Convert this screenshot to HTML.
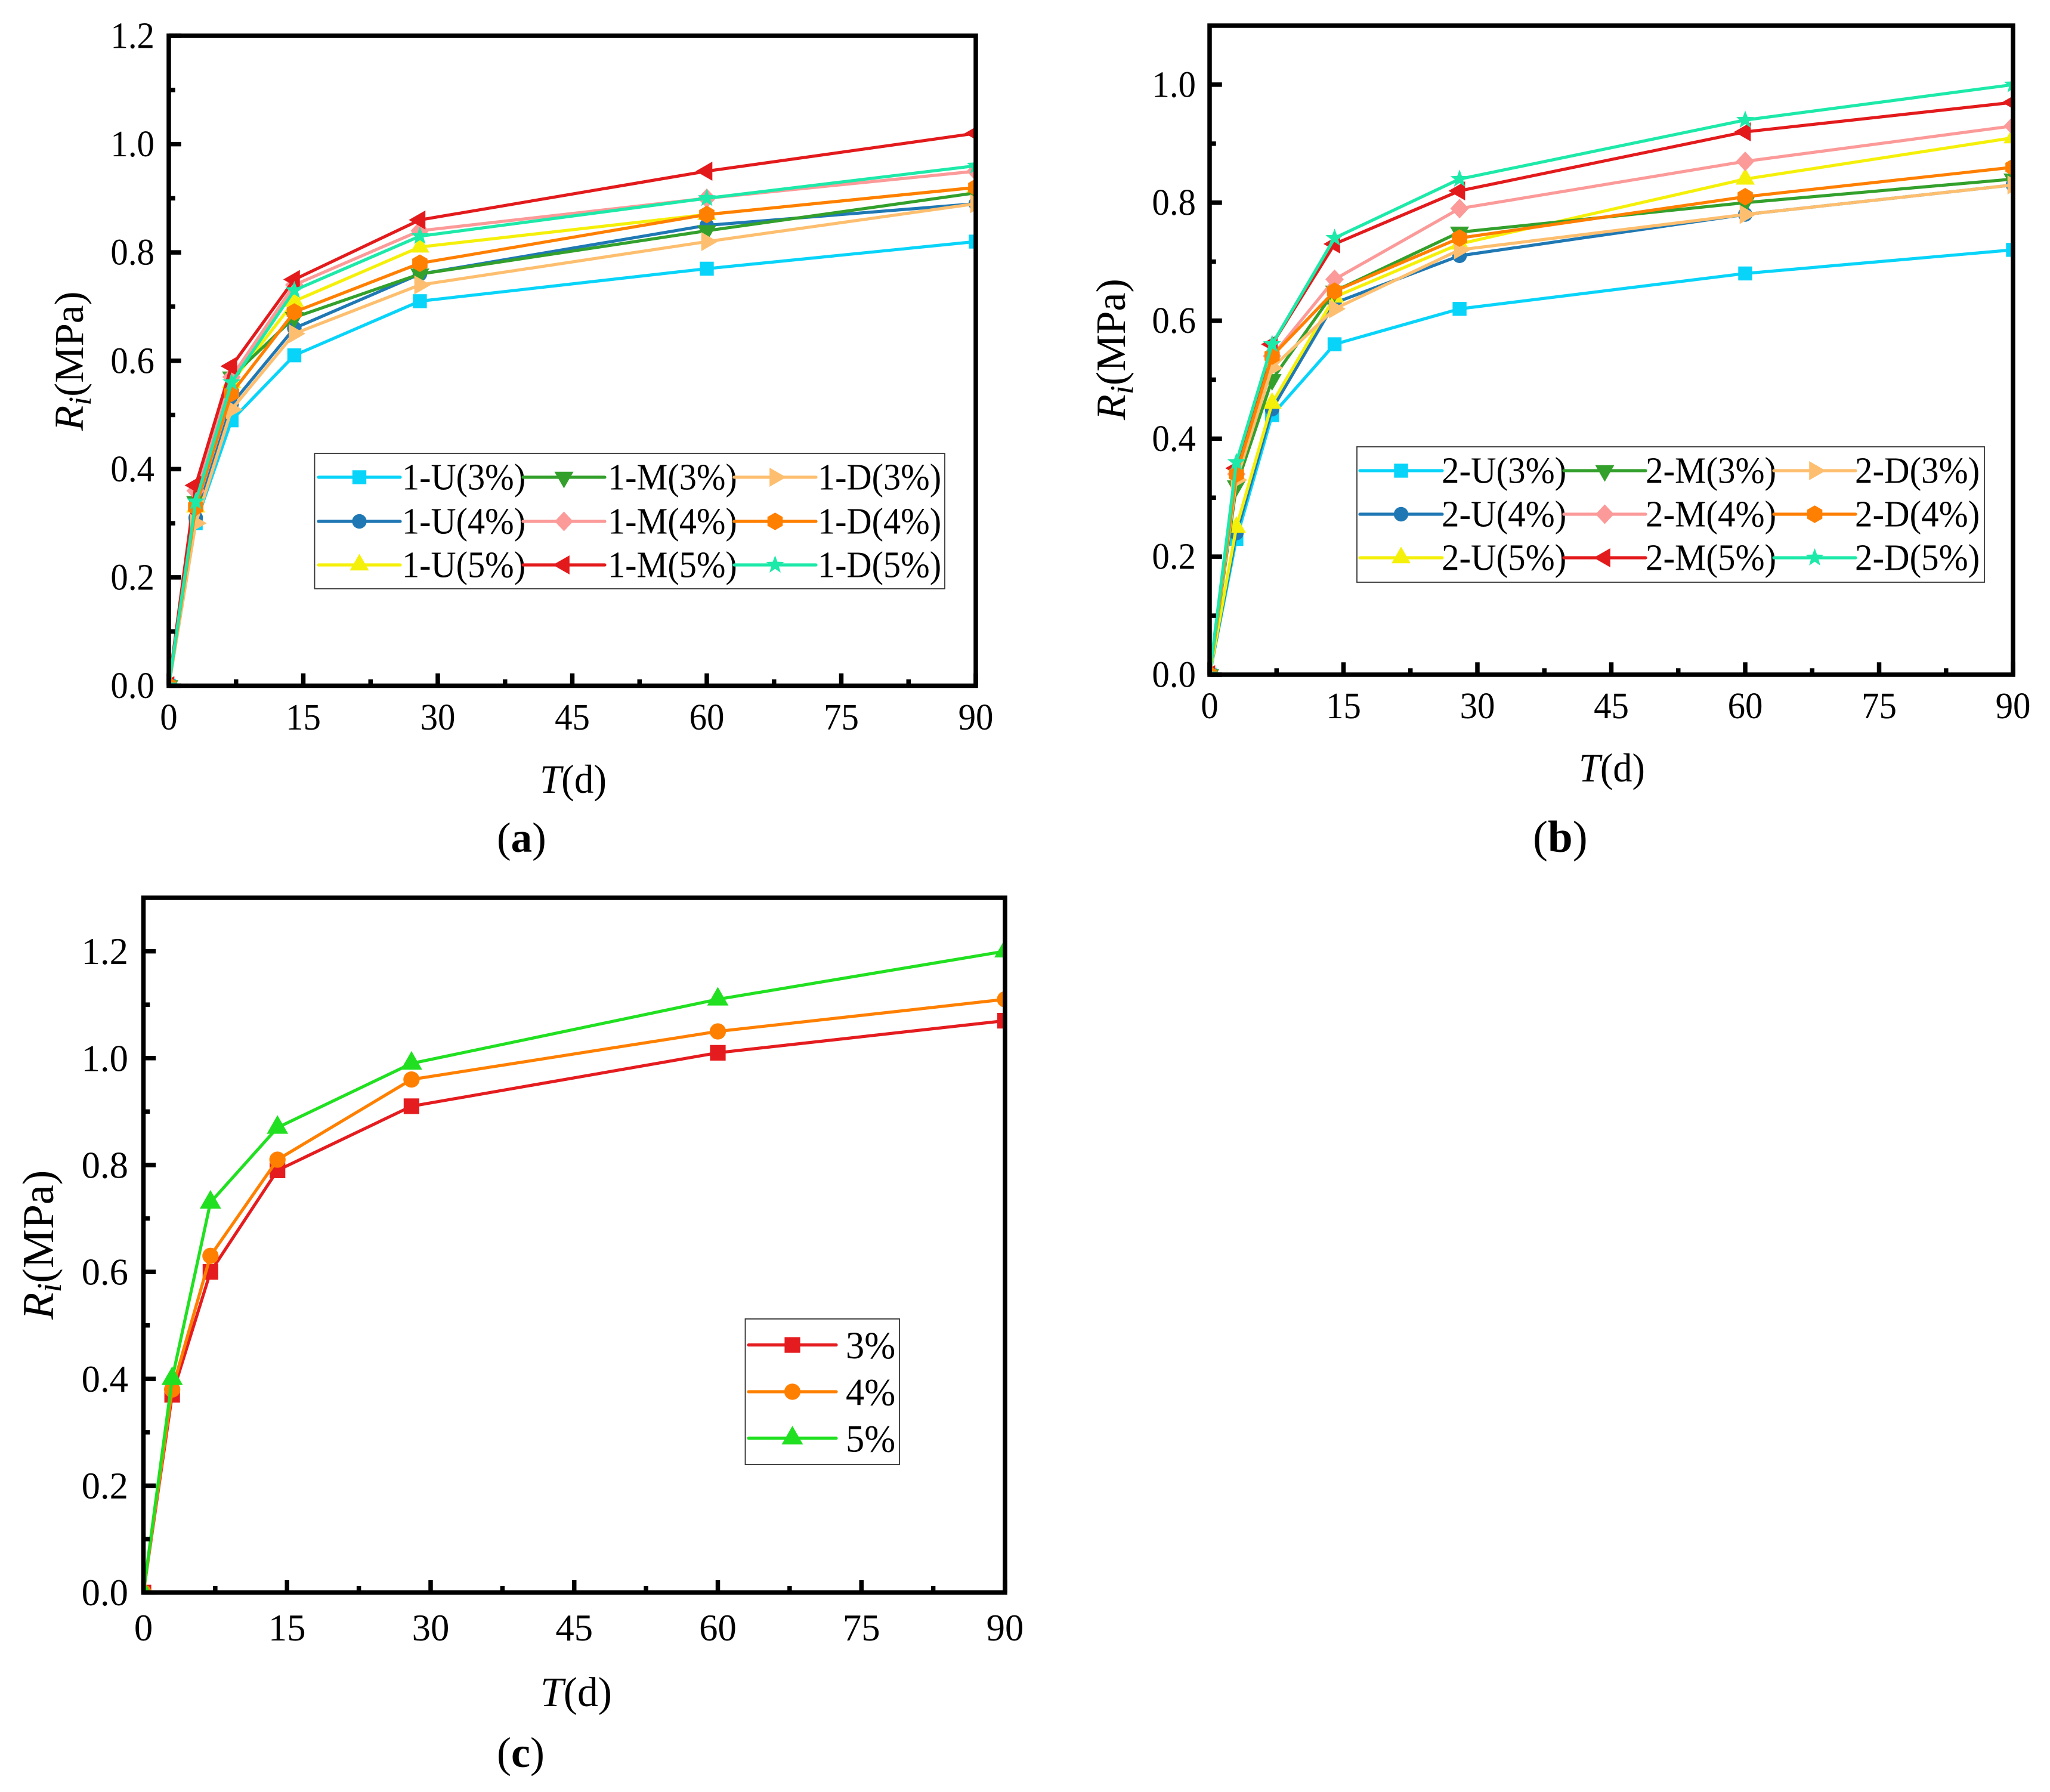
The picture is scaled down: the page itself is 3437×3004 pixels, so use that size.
<!DOCTYPE html>
<html lang="en">
<head>
<meta charset="utf-8">
<title>Ri versus T curves</title>
<style>
html,body{margin:0;padding:0;background:#fff;}
svg{display:block;}
text{font-family:"Liberation Serif","Times New Roman",serif;fill:#000;}
</style>
</head>
<body>
<svg id="figure" xmlns="http://www.w3.org/2000/svg" width="3437" height="3004" viewBox="0 0 3437 3004">
<rect width="3437" height="3004" fill="#fff"/>
</svg>
<script>
// ---- shared axis data ----
const days = [0, 3, 7, 14, 28, 60, 90];
const xMajorTicks = [0, 15, 30, 45, 60, 75, 90];
const xMinorTicks = [7.5, 22.5, 37.5, 52.5, 67.5, 82.5];
const xTickLabels = ['0', '15', '30', '45', '60', '75', '90'];

const yMajorTicksA = [0, 0.2, 0.4, 0.6, 0.8, 1.0, 1.2];
const yMinorTicksA = [0.1, 0.3, 0.5, 0.7, 0.9, 1.1];
const yTickLabelsA = ['0.0', '0.2', '0.4', '0.6', '0.8', '1.0', '1.2'];
const yMajorTicksB = [0, 0.2, 0.4, 0.6, 0.8, 1.0];
const yMinorTicksB = [0.1, 0.3, 0.5, 0.7, 0.9];
const yTickLabelsB = ['0.0', '0.2', '0.4', '0.6', '0.8', '1.0'];
const yMajorTicksC = [0, 0.2, 0.4, 0.6, 0.8, 1.0, 1.2];
const yMinorTicksC = [0.1, 0.3, 0.5, 0.7, 0.9, 1.1];
const yTickLabelsC = ['0.0', '0.2', '0.4', '0.6', '0.8', '1.0', '1.2'];

// ---- panel (a) values ----
const a_U3 = [0, 0.30, 0.49, 0.61, 0.71, 0.77, 0.82];
const a_U4 = [0, 0.31, 0.52, 0.66, 0.76, 0.85, 0.89];
const a_U5 = [0, 0.33, 0.56, 0.71, 0.81, 0.87, 0.92];
const a_M3 = [0, 0.34, 0.57, 0.68, 0.76, 0.84, 0.91];
const a_M4 = [0, 0.36, 0.57, 0.74, 0.84, 0.90, 0.95];
const a_M5 = [0, 0.37, 0.59, 0.75, 0.86, 0.95, 1.02];
const a_D3 = [0, 0.30, 0.51, 0.65, 0.74, 0.82, 0.89];
const a_D4 = [0, 0.33, 0.54, 0.69, 0.78, 0.87, 0.92];
const a_D5 = [0, 0.34, 0.56, 0.73, 0.83, 0.90, 0.96];

// ---- panel (b) values ----
const b_U3 = [0, 0.23, 0.44, 0.56, 0.62, 0.68, 0.72];
const b_U4 = [0, 0.24, 0.45, 0.63, 0.71, 0.78, 0.83];
const b_U5 = [0, 0.25, 0.46, 0.64, 0.73, 0.84, 0.91];
const b_M3 = [0, 0.32, 0.50, 0.65, 0.75, 0.80, 0.84];
const b_M4 = [0, 0.34, 0.54, 0.67, 0.79, 0.87, 0.93];
const b_M5 = [0, 0.35, 0.56, 0.73, 0.82, 0.92, 0.97];
const b_D3 = [0, 0.33, 0.52, 0.62, 0.72, 0.78, 0.83];
const b_D4 = [0, 0.34, 0.54, 0.65, 0.74, 0.81, 0.86];
const b_D5 = [0, 0.36, 0.56, 0.74, 0.84, 0.94, 1.00];

// ---- panel (c) values ----
const c_3 = [0, 0.37, 0.60, 0.79, 0.91, 1.01, 1.07];
const c_4 = [0, 0.38, 0.63, 0.81, 0.96, 1.05, 1.11];
const c_5 = [0, 0.40, 0.73, 0.87, 0.99, 1.11, 1.20];

// ---- series names ----
const namesA = ['1-U(3%)', '1-U(4%)', '1-U(5%)', '1-M(3%)', '1-M(4%)', '1-M(5%)', '1-D(3%)', '1-D(4%)', '1-D(5%)'];
const namesB = ['2-U(3%)', '2-U(4%)', '2-U(5%)', '2-M(3%)', '2-M(4%)', '2-M(5%)', '2-D(3%)', '2-D(4%)', '2-D(5%)'];
const namesC = ['3%', '4%', '5%'];

// ---- styling (kept apart from data) ----
const styleNine = [
  {color: '#08D4F9', marker: 'square'},
  {color: '#1F78B4', marker: 'circle'},
  {color: '#F5F00A', marker: 'up'},
  {color: '#33A02C', marker: 'down'},
  {color: '#FB9A99', marker: 'diamond'},
  {color: '#E31A1C', marker: 'left'},
  {color: '#FDBF6F', marker: 'right'},
  {color: '#FF7F00', marker: 'hexagon'},
  {color: '#1DE9A9', marker: 'star'}
];
const styleThree = [
  {color: '#E51C1F', marker: 'square'},
  {color: '#FF8000', marker: 'circle'},
  {color: '#21E021', marker: 'up'}
];

const SVG_NS = 'http://www.w3.org/2000/svg';
const figure = document.getElementById('figure');

function mk(tag, attrs, parent) {
  const el = document.createElementNS(SVG_NS, tag);
  for (const k in attrs) el.setAttribute(k, attrs[k]);
  parent.appendChild(el);
  return el;
}

function polyPoints(cx, cy, pts, s) {
  return pts.map(p => (cx + p[0] * s).toFixed(2) + ',' + (cy + p[1] * s).toFixed(2)).join(' ');
}

function drawMarker(parent, type, cx, cy, color, s) {
  let el;
  if (type === 'square') {
    const h = 11.7 * s;
    el = mk('rect', {x: cx - h, y: cy - h, width: 2 * h, height: 2 * h, fill: color}, parent);
  } else if (type === 'circle') {
    el = mk('circle', {cx: cx, cy: cy, r: 12.2 * s, fill: color}, parent);
  } else if (type === 'up') {
    el = mk('polygon', {points: polyPoints(cx, cy, [[0, -18.6], [-16, 9.3], [16, 9.3]], s), fill: color}, parent);
  } else if (type === 'down') {
    el = mk('polygon', {points: polyPoints(cx, cy, [[0, 18.6], [-16, -9.3], [16, -9.3]], s), fill: color}, parent);
  } else if (type === 'left') {
    el = mk('polygon', {points: polyPoints(cx, cy, [[-18.6, 0], [9.3, -16], [9.3, 16]], s), fill: color}, parent);
  } else if (type === 'right') {
    el = mk('polygon', {points: polyPoints(cx, cy, [[18.6, 0], [-9.3, -16], [-9.3, 16]], s), fill: color}, parent);
  } else if (type === 'diamond') {
    el = mk('polygon', {points: polyPoints(cx, cy, [[0, -16.5], [15.5, 0], [0, 16.5], [-15.5, 0]], s), fill: color}, parent);
  } else if (type === 'hexagon') {
    const r = 14.8;
    const pts = [];
    for (let i = 0; i < 6; i++) {
      const t = Math.PI / 3 * i - Math.PI / 2;
      pts.push([r * Math.cos(t), r * Math.sin(t)]);
    }
    el = mk('polygon', {points: polyPoints(cx, cy, pts, s), fill: color}, parent);
  } else {
    const pts = [];
    for (let i = 0; i < 10; i++) {
      const r = i % 2 === 0 ? 16 : 6.6;
      const t = Math.PI / 5 * i - Math.PI / 2;
      pts.push([r * Math.cos(t), r * Math.sin(t)]);
    }
    el = mk('polygon', {points: polyPoints(cx, cy, pts, s), fill: color}, parent);
  }
  return el;
}

function drawPanel(p) {
  const xScale = v => p.x0 + (v / p.xMax) * (p.x1 - p.x0);
  const yScale = v => p.y0 - (v / p.yMax) * (p.y0 - p.yTop);

  const g = mk('g', {}, figure);
  
  

  const clip = mk('clipPath', {id: `clip-${p.id}`}, g);
  mk('rect', {x: p.x0, y: p.yTop, width: p.x1 - p.x0, height: p.y0 - p.yTop}, clip);

  // series
  const plot = mk('g', {'clip-path': `url(#clip-${p.id})`}, g);
  
  
  p.series.forEach((values, i) => {
    const st = p.styles[i];
    const sg = mk('g', {}, plot);
    
    
    const pts = values.map((v, j) => xScale(days[j]).toFixed(2) + ',' + yScale(v).toFixed(2)).join(' ');
    const line = mk('polyline', {points: pts, fill: 'none', stroke: st.color, 'stroke-width': 5.2, 'stroke-linejoin': 'round'}, sg);
    
    
    values.forEach((v, j) => {
      const m = drawMarker(sg, st.marker, xScale(days[j]), yScale(v), st.color, p.markerScale);
      
      
    });
  });

  // ticks
  const sw = 7.5;
  const halfSpine = sw / 2;
  const major = 17 + halfSpine;
  const minor = 7 + halfSpine;
  xMajorTicks.forEach((v, i) => {
    const x = xScale(v);
    const t = mk('line', {x1: x, x2: x, y1: p.y0, y2: p.y0 - major, stroke: '#000', 'stroke-width': sw}, g);
    
    
    const lab = mk('text', {transform: `translate(${x},${p.xLabelBase}) scale(${p.textSX},1)`, 'text-anchor': 'middle', 'font-size': p.tickFont}, g);
    lab.textContent = xTickLabels[i];
    
    
  });
  xMinorTicks.forEach(v => {
    const x = xScale(v);
    const t = mk('line', {x1: x, x2: x, y1: p.y0, y2: p.y0 - minor, stroke: '#000', 'stroke-width': sw}, g);
    
    
  });
  p.yMajor.forEach((v, i) => {
    const y = yScale(v);
    const t = mk('line', {x1: p.x0, x2: p.x0 + major, y1: y, y2: y, stroke: '#000', 'stroke-width': sw}, g);
    
    
    const lab = mk('text', {transform: `translate(${p.yLabelRight},${y + p.yLabelShift}) scale(${p.textSX},1)`, 'text-anchor': 'end', 'font-size': p.tickFont}, g);
    lab.textContent = p.yLabels[i];
    
    
  });
  p.yMinor.forEach(v => {
    const y = yScale(v);
    const t = mk('line', {x1: p.x0, x2: p.x0 + minor, y1: y, y2: y, stroke: '#000', 'stroke-width': sw}, g);
    
    
  });

  // frame
  const frame = mk('rect', {x: p.x0, y: p.yTop, width: p.x1 - p.x0, height: p.y0 - p.yTop, fill: 'none', stroke: '#000', 'stroke-width': sw}, g);
  
  

  // axis titles
  const xt = mk('text', {x: p.xTitle.x, y: p.xTitle.y, 'font-size': p.xTitle.size, textLength: p.xTitle.len, lengthAdjust: 'spacingAndGlyphs'}, g);
  
  
  const xt1 = mk('tspan', {'font-style': 'italic'}, xt);
  xt1.textContent = 'T';
  const xt2 = mk('tspan', {}, xt);
  xt2.textContent = '(d)';

  const yt = mk('text', {transform: `translate(${p.yTitle.x},${p.yTitle.y}) rotate(-90)`, 'font-size': p.yTitle.size}, g);
  
  
  const yt1 = mk('tspan', {'font-style': 'italic'}, yt);
  yt1.textContent = 'R';
  const yt2 = mk('tspan', {'font-style': 'italic', 'font-size': p.yTitle.size * 0.78, dy: 13}, yt);
  yt2.textContent = 'i';
  const yt3 = mk('tspan', {dy: -13}, yt);
  yt3.textContent = '(MPa)';

  // sub-label
  const sub = mk('text', {x: p.sub.x, y: p.sub.y, 'font-size': p.sub.size}, g);
  
  
  const s1 = mk('tspan', {}, sub);
  s1.textContent = '(';
  const s2 = mk('tspan', {'font-weight': 'bold'}, sub);
  s2.textContent = p.id;
  const s3 = mk('tspan', {}, sub);
  s3.textContent = ')';

  // legend
  const L = p.legend;
  const lg = mk('g', {}, g);
  
  
  const box = mk('rect', {x: L.x, y: L.y, width: L.w, height: L.h, fill: '#fff', stroke: '#333', 'stroke-width': 1.8}, lg);
  
  
  p.names.forEach((name, i) => {
    const col = L.cols[Math.floor(i / L.rows.length)];
    const ry = L.rows[i % L.rows.length];
    const st = p.styles[i];
    const eg = mk('g', {}, lg);
    
    
    mk('line', {x1: col.a, x2: col.b, y1: ry, y2: ry, stroke: st.color, 'stroke-width': 5.2, 'stroke-linecap': 'round'}, eg);
    drawMarker(eg, st.marker, (col.a + col.b) / 2, ry, st.color, p.markerScale);
    const tx = mk('text', {transform: `translate(${col.t},${ry + L.shift}) scale(${L.sx},1)`, 'font-size': L.font}, eg);
    tx.textContent = name;
  });
}

drawPanel({
  id: 'a', x0: 283, x1: 1636, xMax: 90, y0: 1149.5, yTop: 60, yMax: 1.2,
  series: [a_U3, a_U4, a_U5, a_M3, a_M4, a_M5, a_D3, a_D4, a_D5],
  names: namesA, styles: styleNine, markerScale: 1,
  yMajor: yMajorTicksA, yMinor: yMinorTicksA, yLabels: yTickLabelsA,
  tickFont: 62, textSX: 0.95, xLabelBase: 1223, yLabelRight: 259, yLabelShift: 20.5,
  xTitle: {x: 905, y: 1329, size: 68, len: 112},
  yTitle: {x: 139, y: 722, size: 69},
  sub: {x: 833, y: 1428, size: 71},
  legend: {x: 527.5, y: 760, w: 1056.5, h: 227, rows: [800, 874, 947], font: 62, shift: 20.5, sx: 0.94,
    cols: [{a: 534, b: 671, t: 674}, {a: 877, b: 1014, t: 1019}, {a: 1231, b: 1368, t: 1371}]}
});

drawPanel({
  id: 'b', x0: 2028, x1: 3375, xMax: 90, y0: 1131, yTop: 43, yMax: 1.1,
  series: [b_U3, b_U4, b_U5, b_M3, b_M4, b_M5, b_D3, b_D4, b_D5],
  names: namesB, styles: styleNine, markerScale: 1,
  yMajor: yMajorTicksB, yMinor: yMinorTicksB, yLabels: yTickLabelsB,
  tickFont: 62, textSX: 0.95, xLabelBase: 1204, yLabelRight: 2005, yLabelShift: 20.5,
  xTitle: {x: 2647, y: 1310, size: 68, len: 111},
  yTitle: {x: 1886, y: 704, size: 70},
  sub: {x: 2570, y: 1428, size: 75},
  legend: {x: 2275, y: 749, w: 1052, h: 227, rows: [789, 862, 935], font: 62, shift: 20.5, sx: 0.95,
    cols: [{a: 2280, b: 2418, t: 2417}, {a: 2622, b: 2759, t: 2759}, {a: 2974, b: 3111, t: 3110}]}
});

drawPanel({
  id: 'c', x0: 240.5, x1: 1685, xMax: 90, y0: 2669.7, yTop: 1505, yMax: 1.3,
  series: [c_3, c_4, c_5],
  names: namesC, styles: styleThree, markerScale: 1.12,
  yMajor: yMajorTicksC, yMinor: yMinorTicksC, yLabels: yTickLabelsC,
  tickFont: 64, textSX: 0.98, xLabelBase: 2750, yLabelRight: 215, yLabelShift: 21.5,
  xTitle: {x: 906, y: 2860, size: 70, len: 120},
  yTitle: {x: 89, y: 2212, size: 74},
  sub: {x: 833, y: 2962, size: 72},
  legend: {x: 1249.5, y: 2211, w: 258.5, h: 244, rows: [2254.6, 2333, 2411], font: 65, shift: 22.5, sx: 0.96,
    cols: [{a: 1255, b: 1402, t: 1418}]}
});
</script>
</body>
</html>
